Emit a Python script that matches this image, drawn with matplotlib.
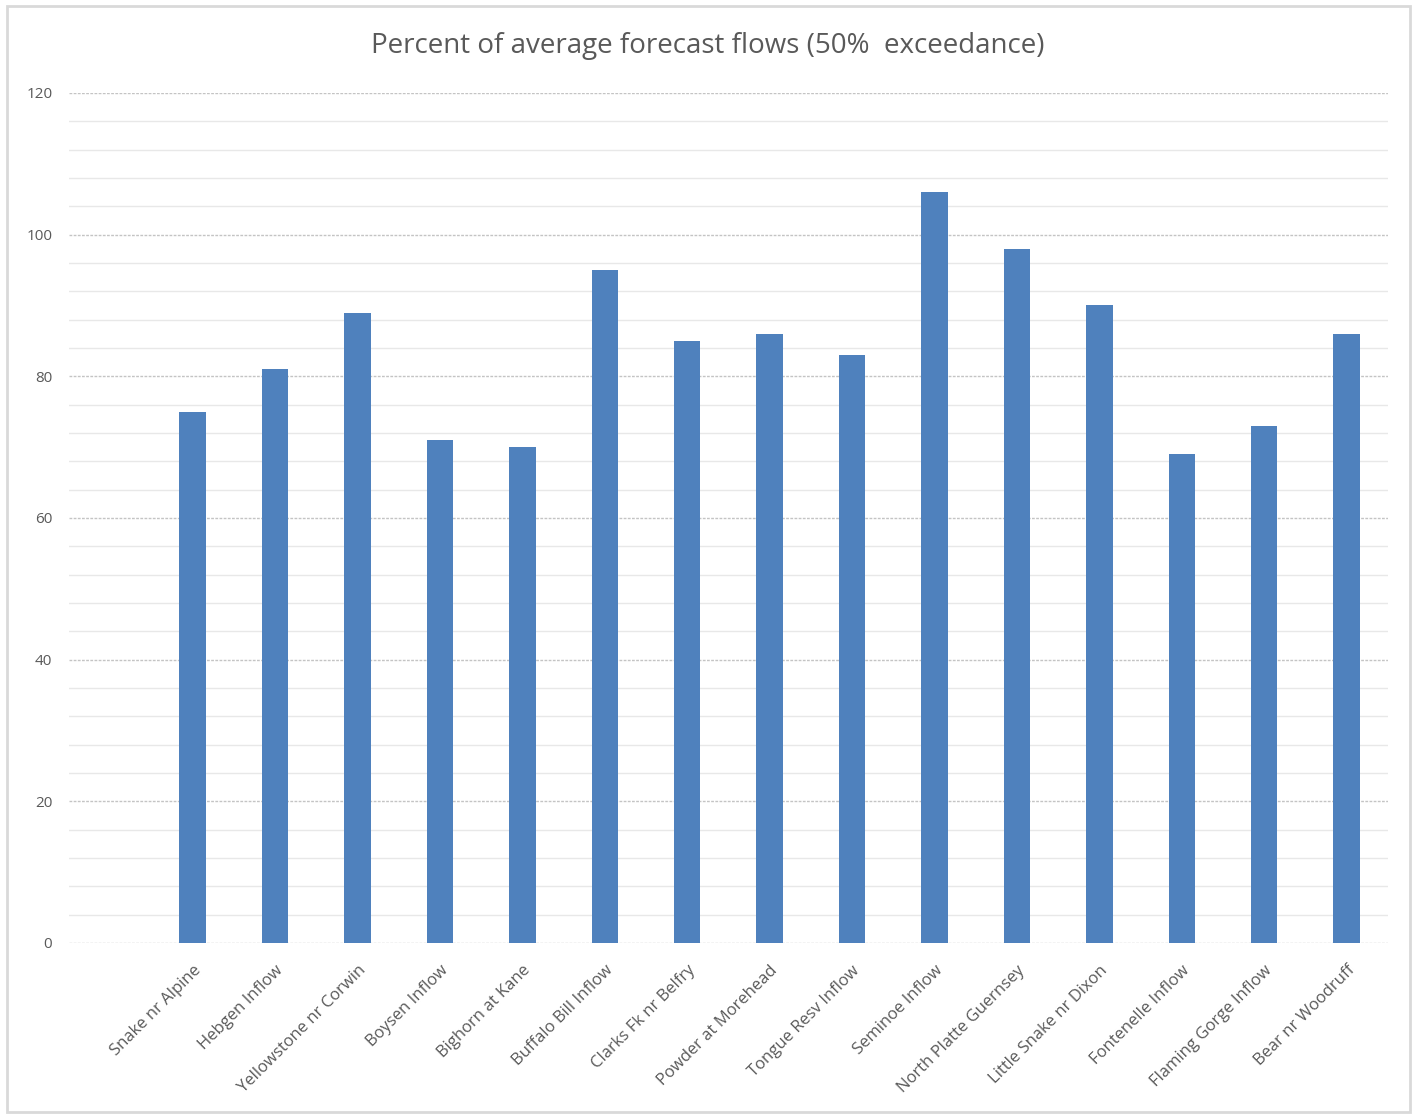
import matplotlib.pyplot as plt
from matplotlib.patches import Rectangle
from matplotlib.ticker import MultipleLocator

stations = ['Snake nr Alpine', 'Hebgen Inflow', 'Yellowstone nr Corwin', 'Boysen Inflow',
            'Bighorn at Kane', 'Buffalo Bill Inflow', 'Clarks Fk nr Belfry', 'Powder at Morehead',
            'Tongue Resv Inflow', 'Seminoe Inflow', 'North Platte Guernsey', 'Little Snake nr Dixon',
            'Fontenelle Inflow', 'Flaming Gorge Inflow', 'Bear nr Woodruff']
pct_avg = [75, 81, 89, 71, 70, 95, 85, 86, 83, 106, 98, 90, 69, 73, 86]

plt.rcParams['font.family'] = ['Open Sans', 'DejaVu Sans']

fig = plt.figure(figsize=(14.16, 11.15), dpi=100)
ax = fig.add_axes([0.0487, 0.1543, 0.9314, 0.7623])

x = range(len(stations))
ax.bar(x, pct_avg, width=0.32, color='#4f81bd', zorder=3)

# one empty slot on the left, like the original sheet
ax.set_xlim(-1.5, len(stations) - 0.5)
ax.set_ylim(0, 120)
ax.yaxis.set_major_locator(MultipleLocator(20))
ax.yaxis.set_minor_locator(MultipleLocator(4))
ax.grid(which='major', axis='y', color='#c4c4c4', linestyle=(0, (2, 1)), linewidth=1.0, zorder=1)
ax.grid(which='minor', axis='y', color='#e8e8e8', linestyle='-', linewidth=1.0, zorder=0)

for s in ax.spines.values():
    s.set_visible(False)

ax.set_xticks(list(x))
ax.set_xticklabels(stations, rotation=45, ha='right', rotation_mode='anchor',
                   fontsize=12, color='#595959')
ax.tick_params(axis='x', length=0, pad=14)
ax.tick_params(axis='y', which='both', length=0, pad=12, labelsize=11, labelcolor='#595959')

fig.text(0.5, 0.959, 'Percent of average forecast flows (50%  exceedance)',
         ha='center', va='center', fontsize=20, color='#595959')

fig.patches.append(Rectangle((0.005, 0.003), 0.991, 0.992, transform=fig.transFigure,
                             fill=False, edgecolor='#d9d9d9', linewidth=2))

fig.savefig('out.png', dpi=100, facecolor='white')
